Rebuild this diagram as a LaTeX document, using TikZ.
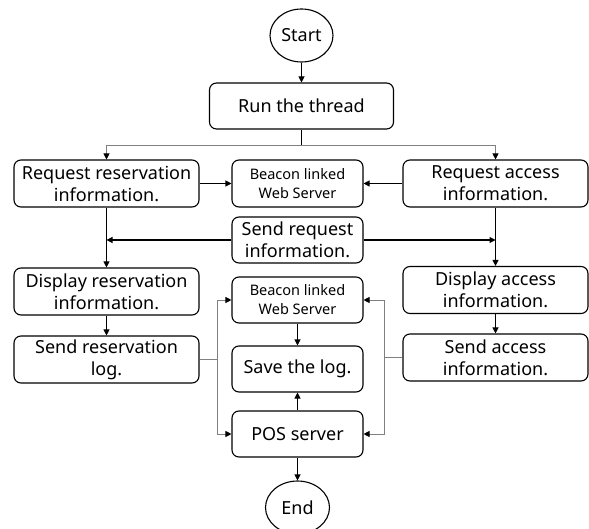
\documentclass[tikz,border=0pt]{standalone}
\usepackage{fontspec}
\setmainfont{Noto Sans}
\usetikzlibrary{arrows.meta,shapes.geometric}
\begin{document}
\begin{tikzpicture}[x=1pt,y=-1pt,
  box/.style={draw, rounded corners=7pt, line width=1.1pt, minimum width=185pt, minimum height=47pt, align=center, font=\fontsize{18}{22}\selectfont, inner sep=0pt},
  sbox/.style={box, minimum width=131pt, font=\fontsize{14.5}{19}\selectfont},
  term/.style={draw, ellipse, line width=1.1pt, minimum width=63pt, minimum height=53pt, inner sep=0pt, font=\fontsize{18}{22}\selectfont},
  arr/.style={-{Triangle[length=6pt,width=6pt]}, line width=1.1pt},
  garr/.style={draw=gray, line width=0.9pt, -{Triangle[length=6pt,width=6pt,color=black]}},
  gline/.style={draw=gray, line width=0.9pt}]
\useasboundingbox[fill=white] (0,0) rectangle (589,529);
\node[term] (start) at (301.5,35.5) {Start};
\node[box, minimum width=184pt, minimum height=46pt] (run) at (301.5,106) {Run the thread};
\node[box] (reqres) at (106.5,183.5) {Request reservation\\information.};
\node[sbox] (bw1) at (297.5,183.5) {Beacon linked\\Web Server};
\node[box] (reqacc) at (495.5,183.5) {Request access\\information.};
\node[box, minimum width=131pt, minimum height=46pt] (sendreq) at (297.5,240) {Send request\\information.};
\node[box] (dispres) at (106.5,291.5) {Display reservation\\information.};
\node[box] (sendlog) at (106.5,359.5) {Send reservation\\log.};
\node[box] (dispacc) at (495.5,290) {Display access\\information.};
\node[box] (sendacc) at (495.5,357.5) {Send access\\information.};
\node[sbox, minimum height=46pt] (bw2) at (297.5,300) {Beacon linked\\Web Server};
\node[box, minimum width=131pt, minimum height=46pt] (save) at (297.5,369) {Save the log.};
\node[box, minimum width=131pt, minimum height=46pt] (pos) at (297.5,434) {POS server};
\node[term, minimum width=64pt] (end) at (297.5,507.5) {End};
% connectors
\draw[arr] (start) -- (run);
\coordinate (split) at (301.5,145);
\coordinate (sl) at (106.5,145);
\coordinate (sr) at (495.5,145);
\draw[line width=0.9pt] (run.south) -- (split);
\draw[gline] (sl) -- (sr);
\draw[garr] (sl) -- (reqres.north);
\draw[garr] (sr) -- (reqacc.north);
\draw[arr] (reqres) -- (bw1);
\draw[arr] (reqacc) -- (bw1);
\draw[arr] (sendreq) -- (sendreq -| reqres);
\draw[arr] (sendreq) -- (sendreq -| reqacc);
\draw[arr] (reqres) -- (dispres);
\draw[arr] (reqacc) -- (dispacc);
\draw[arr] (dispres) -- (sendlog);
\draw[arr] (dispacc) -- (sendacc);
\coordinate (jl) at (217,359.5);
\coordinate (jr) at (384,357.5);
\draw[gline] (sendlog.east) -- (jl);
\draw[garr] (jl) |- (bw2.west);
\draw[garr] (jl) |- (pos.west);
\draw[gline] (sendacc.west) -- (jr);
\draw[garr] (jr) |- (bw2.east);
\draw[garr] (jr) |- (pos.east);
\draw[arr] (bw2) -- (save);
\draw[arr] (pos) -- (save);
\draw[arr] (pos) -- (end);
\end{tikzpicture}
\end{document}
